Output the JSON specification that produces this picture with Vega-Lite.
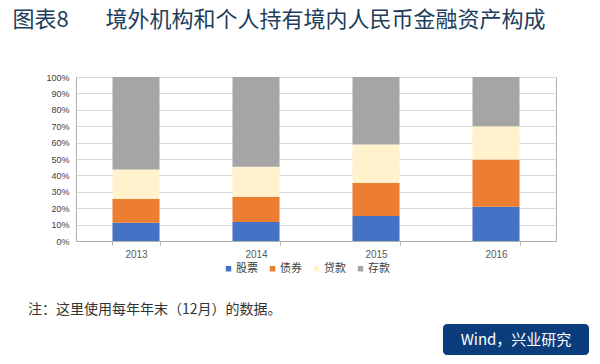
{
  "$schema": "https://vega.github.io/schema/vega-lite/v6.json",
  "background": "white",
  "padding": {"left": 12, "top": 8, "right": 10, "bottom": 8},
  "title": {
    "text": "图表8　\u00a0\u00a0\u00a0境外机构和个人持有境内人民币金融资产构成",
    "anchor": "start",
    "dx": -15,
    "fontSize": 22,
    "font": "Noto Sans CJK SC",
    "fontWeight": "normal",
    "color": "#1e3d5c",
    "offset": 41
  },
  "config": {"font": "Noto Sans CJK SC", "view": {"stroke": null}},
  "resolve": {"legend": {"color": "independent"}, "scale": {"color": "independent"}},
  "spacing": 6,
  "vconcat": [
    {
      "width": 480,
      "height": 164,
      "view": {"stroke": "#b0b0b0"},
      "title": {
        "text": "注：这里使用每年年末（12月）的数据。",
        "orient": "bottom",
        "anchor": "start",
        "frame": "group",
        "dx": -48,
        "fontSize": 14,
        "fontWeight": "normal",
        "color": "#333333",
        "offset": 29
      },
      "data": {
        "values": [
          {"year": "2013", "type": "股票", "i": 1, "v": 11.1},
          {"year": "2013", "type": "债券", "i": 2, "v": 14.7},
          {"year": "2013", "type": "贷款", "i": 3, "v": 17.8},
          {"year": "2013", "type": "存款", "i": 4, "v": 56.4},
          {"year": "2014", "type": "股票", "i": 1, "v": 11.6},
          {"year": "2014", "type": "债券", "i": 2, "v": 15.4},
          {"year": "2014", "type": "贷款", "i": 3, "v": 18.2},
          {"year": "2014", "type": "存款", "i": 4, "v": 54.8},
          {"year": "2015", "type": "股票", "i": 1, "v": 15.2},
          {"year": "2015", "type": "债券", "i": 2, "v": 20.3},
          {"year": "2015", "type": "贷款", "i": 3, "v": 23.3},
          {"year": "2015", "type": "存款", "i": 4, "v": 41.2},
          {"year": "2016", "type": "股票", "i": 1, "v": 20.9},
          {"year": "2016", "type": "债券", "i": 2, "v": 28.8},
          {"year": "2016", "type": "贷款", "i": 3, "v": 20.3},
          {"year": "2016", "type": "存款", "i": 4, "v": 30.0}
        ]
      },
      "mark": {"type": "bar"},
      "encoding": {
        "x": {
          "field": "year",
          "type": "nominal",
          "scale": {"paddingInner": 0.608, "paddingOuter": 0.304},
          "axis": {
            "title": null,
            "labelAngle": 0,
            "labelFont": "Liberation Sans",
            "labelFontSize": 10,
            "labelColor": "#595959",
            "tickBand": "extent",
            "tickColor": "#b0b0b0",
            "tickSize": 4,
            "domainColor": "#b0b0b0",
            "labelPadding": 4
          }
        },
        "y": {
          "field": "v",
          "type": "quantitative",
          "stack": "normalize",
          "scale": {"domain": [0, 1]},
          "axis": {
            "title": null,
            "format": ".0%",
            "values": [0, 0.1, 0.2, 0.3, 0.4, 0.5, 0.6, 0.7, 0.8, 0.9, 1],
            "labelFont": "Liberation Sans",
            "labelFontSize": 9,
            "labelColor": "#404040",
            "ticks": false,
            "labelPadding": 7,
            "gridColor": "#d9d9d9",
            "domainColor": "#b0b0b0"
          }
        },
        "color": {
          "field": "type",
          "type": "nominal",
          "scale": {
            "domain": ["股票", "债券", "贷款", "存款"],
            "range": ["#4472c4", "#ed7d31", "#fff2cc", "#a5a5a5"]
          },
          "legend": {
            "title": null,
            "orient": "none",
            "legendX": 147,
            "legendY": 186,
            "direction": "horizontal",
            "symbolType": "square",
            "symbolSize": 30,
            "symbolStrokeWidth": 0,
            "labelFontSize": 11,
            "labelColor": "#404040",
            "labelOffset": 2,
            "columnPadding": 9
          }
        },
        "order": {"field": "i", "type": "quantitative"}
      }
    },
    {
      "spacing": 20,
      "hconcat": [
        {"width": 347, "height": 31, "data": {"values": []}, "mark": "point"},
        {
          "width": 146,
          "height": 31,
          "view": {"fill": "#0b3d7c", "stroke": null, "cornerRadius": 4},
          "data": {"values": [{"src": "Wind，兴业研究"}]},
          "mark": {"type": "text", "color": "white", "fontSize": 15, "font": "Noto Sans CJK SC"},
          "encoding": {"text": {"field": "src", "type": "nominal"}}
        }
      ]
    }
  ]
}
